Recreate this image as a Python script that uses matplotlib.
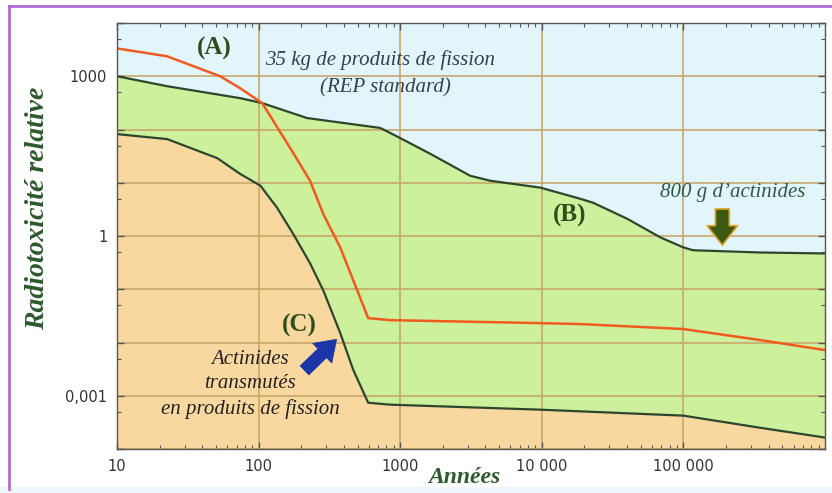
import numpy as np
import matplotlib
matplotlib.use("Agg")
import matplotlib.pyplot as plt
from matplotlib.ticker import FixedLocator, LogLocator, NullFormatter
from matplotlib.lines import Line2D
from matplotlib.patches import Rectangle

# (A) fission products + actinides of a standard PWR (REP) load
years_a = [10, 22.6, 53.5, 74, 106, 167, 231, 286, 377, 466, 594, 850, 9900, 18700, 1e5, 3.5e5, 1e6]
tox_a = [3330, 2370, 1000, 597, 313, 45, 10.9, 2.6, 0.61, 0.147, 0.0287, 0.0263, 0.0231, 0.0222, 0.0179, 0.0111, 0.0072]

# (B) 35 kg of fission products + 800 g of actinides
years_b = [10, 22.6, 74, 106, 220, 723, 1000, 1630, 3125, 4330, 9750, 18700, 23100, 40200, 68800, 1e5, 1.17e5, 3.5e5, 1e6]
tox_b = [1000, 650, 388, 313, 164, 107, 69, 35, 13.5, 10.9, 8.1, 5.0, 4.2, 2.1, 0.94, 0.61, 0.54, 0.49, 0.47]

# (C) actinides transmuted into fission products
years_c = [10, 22.6, 51, 74, 103, 135, 175, 231, 286, 377, 466, 594, 850, 9900, 1e5, 3.5e5, 1e6]
tox_c = [82, 66, 29, 14.7, 8.8, 3.4, 1.11, 0.306, 0.0958, 0.0151, 0.00306, 0.00074, 0.00068, 0.000547, 0.000423, 0.00025, 0.000164]

x_ticks = [10, 100, 1000, 1e4, 1e5]
x_labels = ["10", "100", "1000", "10 000", "100 000"]
y_ticks = [1e-4, 1e-3, 1e-2, 1e-1, 1, 10, 100, 1000, 1e4]
y_labels = ["", "0,001", "", "", "1", "", "", "1000", ""]

SKY = "#e1f5fa"
GREEN = "#cdf09c"
PEACH = "#f9d8a0"
DARK = "#2c472c"
ORANGE = "#f05a1e"
GRID = "#c9a76c"
SERIF = ["Liberation Serif", "DejaVu Serif"]

fig = plt.figure(figsize=(8.32, 4.93), dpi=100)
fig.patch.set_facecolor("white")
ax = fig.add_axes([117 / 832, 1 - 449 / 493, 708 / 832, 426 / 493])
ax.set_facecolor(SKY)
ax.set_xscale("log")
ax.set_yscale("log")

# coloured bands: green between B and C, peach under C
ax.fill(np.concatenate([years_b, years_c[::-1]]),
        np.concatenate([tox_b, tox_c[::-1]]), color=GREEN, lw=0, zorder=1)
ax.fill_between(years_c, tox_c, 1e-5, color=PEACH, lw=0, zorder=1)

ax.grid(True, which="major", color=GRID, lw=1.2, zorder=2)
ax.set_axisbelow(False)

ax.plot(years_b, tox_b, color=DARK, lw=1.6, zorder=4)
ax.plot(years_c, tox_c, color=DARK, lw=1.6, zorder=4)
ax.plot(years_a, tox_a, color=ORANGE, lw=1.8, zorder=5)

ax.xaxis.set_major_locator(FixedLocator(x_ticks))
ax.set_xticklabels(x_labels)
ax.xaxis.set_minor_locator(LogLocator(base=10, subs=np.arange(2, 10)))
ax.xaxis.set_minor_formatter(NullFormatter())
ax.yaxis.set_major_locator(FixedLocator(y_ticks))
ax.set_yticklabels(y_labels)
ax.yaxis.set_minor_locator(FixedLocator([5 * 10.0 ** k for k in range(-5, 4)]))
ax.yaxis.set_minor_formatter(NullFormatter())
ax.set_xlim(10, 1e6)
ax.set_ylim(1e-4, 1e4)

ax.tick_params(which="both", direction="in", top=True, right=True, color="#555555")
ax.tick_params(which="major", length=5, width=1, labelsize=10.5, labelcolor="#333333", pad=7)
ax.tick_params(which="minor", length=3, width=0.8)
for s in ax.spines.values():
    s.set_color("#555555")
    s.set_linewidth(1.0)
    s.set_zorder(6)

ax.set_ylabel("Radiotoxicité relative", family=SERIF, style="italic", weight="bold",
              fontsize=20, color="#2d5a2d")
ax.yaxis.set_label_coords(-0.095, 0.566)
ax.set_xlabel("Années", family=SERIF, style="italic", weight="bold",
              fontsize=17, color="#2d5a2d")
ax.xaxis.set_label_coords(0.49, -0.042)

lab = dict(transform=ax.transAxes, ha="center", va="center", family=SERIF, zorder=7)
ax.text(0.138, 0.941, "(A)", fontsize=18, weight="bold", color="#2d4d1d", **lab)
ax.text(0.640, 0.549, "(B)", fontsize=18, weight="bold", color="#2d4d1d", **lab)
ax.text(0.258, 0.291, "(C)", fontsize=18, weight="bold", color="#2d4d1d", **lab)
ax.text(0.371, 0.913, "35 kg de produits de fission", fontsize=15, style="italic",
        color="#34404c", **lab)
ax.text(0.379, 0.847, "(REP standard)", fontsize=15, style="italic", color="#34404c", **lab)
ax.text(0.870, 0.603, "800 g d\u2019actinides", fontsize=15, style="italic",
        color="#2b5a48", **lab)
ax.text(0.188, 0.152, "Actinides\ntransmutés\nen produits de fission", fontsize=15,
        style="italic", color="#222222", linespacing=1.4, **lab)

# pointer arrows
ax.annotate("", xy=(0.313, 0.262), xytext=(0.262, 0.180), xycoords="axes fraction",
            arrowprops=dict(arrowstyle="simple,head_length=0.8,head_width=1.1,tail_width=0.5",
                            mutation_scale=18, fc="#1c35a8", ec="#1c35a8", lw=0.5), zorder=7)
ax.annotate("", xy=(0.855, 0.472), xytext=(0.855, 0.570), xycoords="axes fraction",
            arrowprops=dict(arrowstyle="simple,head_length=0.7,head_width=1.1,tail_width=0.5",
                            mutation_scale=20, fc="#3d5a12", ec="#e0a526", lw=1.2), zorder=7)

# page frame
fig.add_artist(Rectangle((0, 0), 1, 6 / 493, transform=fig.transFigure,
                         color="#eef8fc", lw=0, zorder=0))
fig.add_artist(Line2D([9 / 832, 1], [1 - 6 / 493, 1 - 6 / 493], transform=fig.transFigure,
                      color="#b36bd8", lw=2))
fig.add_artist(Line2D([9 / 832, 9 / 832], [1 - 6 / 493, 4 / 493], transform=fig.transFigure,
                      color="#b36bd8", lw=2))

fig.savefig("out.png", dpi=100)
